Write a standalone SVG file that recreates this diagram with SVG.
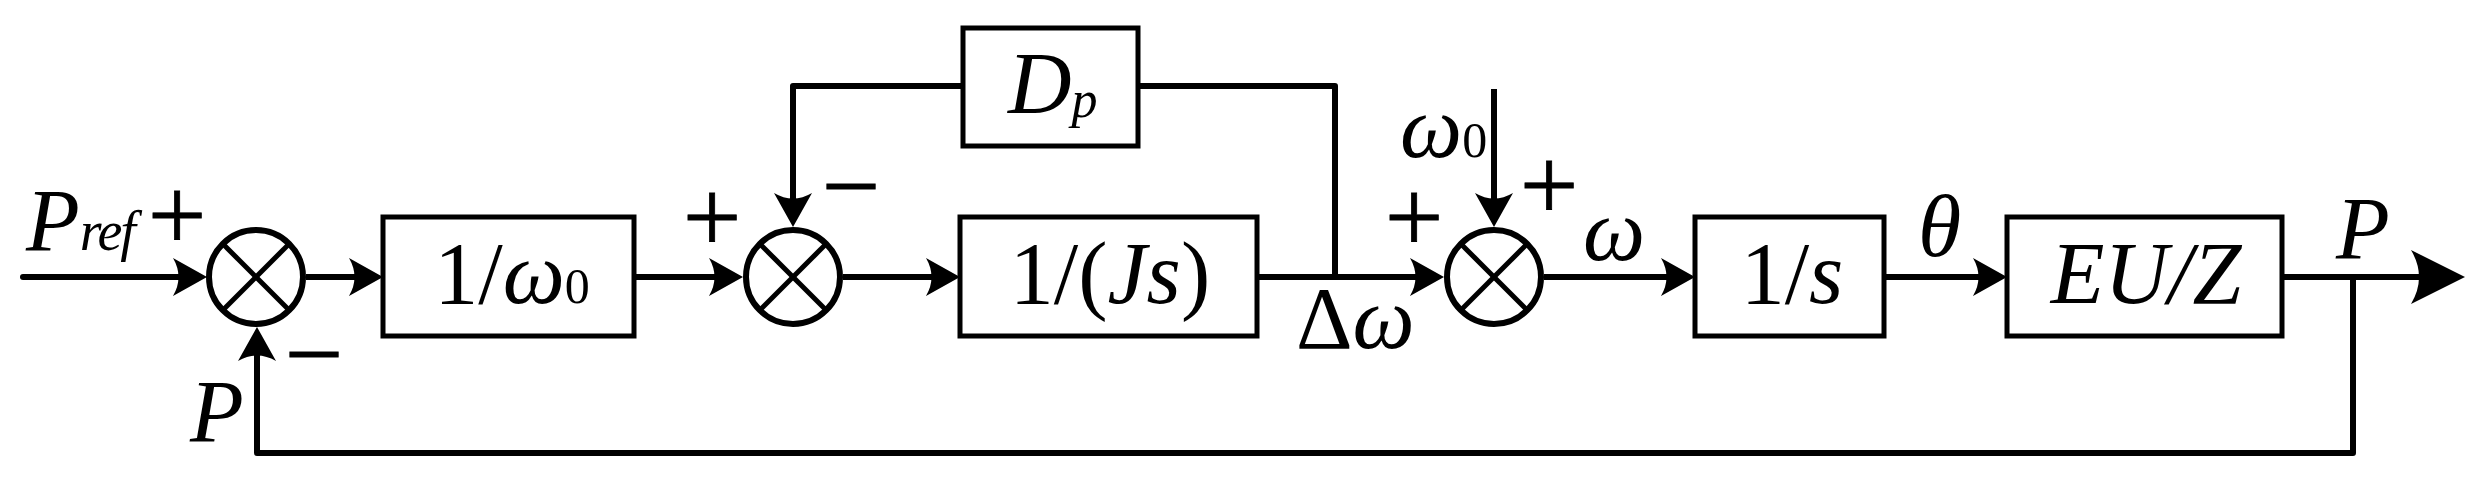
<svg xmlns="http://www.w3.org/2000/svg" width="2490" height="481" viewBox="0 0 2490 481">
  <style>
    .ln { fill: none; stroke: #000; stroke-width: 6; stroke-linejoin: round; }
    .bx { fill: #fff; stroke: #000; stroke-width: 5; }
    .sc { fill: #fff; stroke: #000; stroke-width: 6; }
    .sx { stroke: #000; stroke-width: 5; }
    .t { font-family: "Liberation Serif", "Times New Roman", serif; font-size: 88px; fill: #000; }
    .it { font-style: italic; }
    .sg { font-family: "Liberation Serif", "Times New Roman", serif; font-size: 104px; fill: #000; stroke: #000; stroke-width: 0.8; text-anchor: middle; }
    .mid { text-anchor: middle; }
  </style>
  <defs>
    <marker id="ah" markerUnits="userSpaceOnUse" markerWidth="40" markerHeight="40" viewBox="-36 -20 40 40" refX="-10" refY="0" orient="auto" overflow="visible">
      <path d="M0,0 L-34,-19 Q-23,0 -34,19 Z" fill="#000"/>
    </marker>
    <marker id="ahb" markerUnits="userSpaceOnUse" markerWidth="60" markerHeight="60" viewBox="-56 -30 60 60" refX="-14" refY="0" orient="auto" overflow="visible">
      <path d="M0,0 L-54,-27 Q-38,0 -54,27 Z" fill="#000"/>
    </marker>
  </defs>
  <rect x="0" y="0" width="2490" height="481" fill="#fff"/>

  <g id="connectors">
    <path class="ln" d="M23,277 H197" stroke-linecap="round" marker-end="url(#ah)"/>
    <path class="ln" d="M306,277 H373" marker-end="url(#ah)"/>
    <path class="ln" d="M634,277 H733" marker-end="url(#ah)"/>
    <path class="ln" d="M843,277 H950" marker-end="url(#ah)"/>
    <path class="ln" d="M1257,277 H1434" marker-end="url(#ah)"/>
    <path class="ln" d="M1335,277 V86 H1138"/>
    <path class="ln" d="M963,86 H793 V217" marker-end="url(#ah)"/>
    <path class="ln" d="M1494,89 V217" marker-end="url(#ah)"/>
    <path class="ln" d="M1544,277 H1685" marker-end="url(#ah)"/>
    <path class="ln" d="M1884,277 H1997" marker-end="url(#ah)"/>
    <path class="ln" d="M2282,277 H2451" marker-end="url(#ahb)"/>
    <path class="ln" d="M2353,277 V453 H257 V337" marker-end="url(#ah)"/>
  </g>

  <g id="sum1">
    <circle class="sc" cx="256" cy="277" r="47"/>
    <line class="sx" x1="223" y1="244" x2="289" y2="310"/>
    <line class="sx" x1="289" y1="244" x2="223" y2="310"/>
  </g>
  <g id="gain">
    <rect class="bx" x="383" y="217" width="251" height="119"/>
    <text class="t mid" x="512" y="303">1/<tspan class="it">ω</tspan><tspan font-size="50">0</tspan></text>
  </g>
  <g id="sum2">
    <circle class="sc" cx="793" cy="277" r="47"/>
    <line class="sx" x1="760" y1="244" x2="826" y2="310"/>
    <line class="sx" x1="826" y1="244" x2="760" y2="310"/>
  </g>
  <g id="damping">
    <rect class="bx" x="963" y="28" width="175" height="118"/>
    <text class="t it" x="1008" y="113">D<tspan font-size="52" dy="4">p</tspan></text>
  </g>
  <g id="inertia">
    <rect class="bx" x="960" y="217" width="297" height="119"/>
    <text class="t mid" x="1110" y="303">1/(<tspan class="it">Js</tspan>)</text>
  </g>
  <g id="sum3">
    <circle class="sc" cx="1494" cy="277" r="47"/>
    <line class="sx" x1="1461" y1="244" x2="1527" y2="310"/>
    <line class="sx" x1="1527" y1="244" x2="1461" y2="310"/>
  </g>
  <g id="integrator">
    <rect class="bx" x="1695" y="217" width="189" height="119"/>
    <text class="t mid" x="1792" y="303">1/<tspan class="it">s</tspan></text>
  </g>
  <g id="power">
    <rect class="bx" x="2007" y="217" width="275" height="119"/>
    <text class="t it mid" x="2146" y="303">EU/Z</text>
  </g>

  <g id="labels">
    <text class="t it" x="26" y="250">P<tspan font-size="56" letter-spacing="-2">ref</tspan></text>
    <text class="sg" x="177" y="250">+</text>
    <text class="sg" x="314" y="389">−</text>
    <text class="t it" x="190" y="441">P</text>
    <text class="sg" x="712" y="252">+</text>
    <text class="sg" x="851" y="221">−</text>
    <text class="t" x="1296" y="348">Δ<tspan class="it">ω</tspan></text>
    <text class="t" x="1400" y="157"><tspan class="it">ω</tspan><tspan font-size="50">0</tspan></text>
    <text class="sg" x="1414" y="252">+</text>
    <text class="sg" x="1549" y="220">+</text>
    <text class="t it" x="1583" y="260">ω</text>
    <text class="t it" x="1918" y="256">θ</text>
    <text class="t it" x="2336" y="258">P</text>
  </g>
</svg>
